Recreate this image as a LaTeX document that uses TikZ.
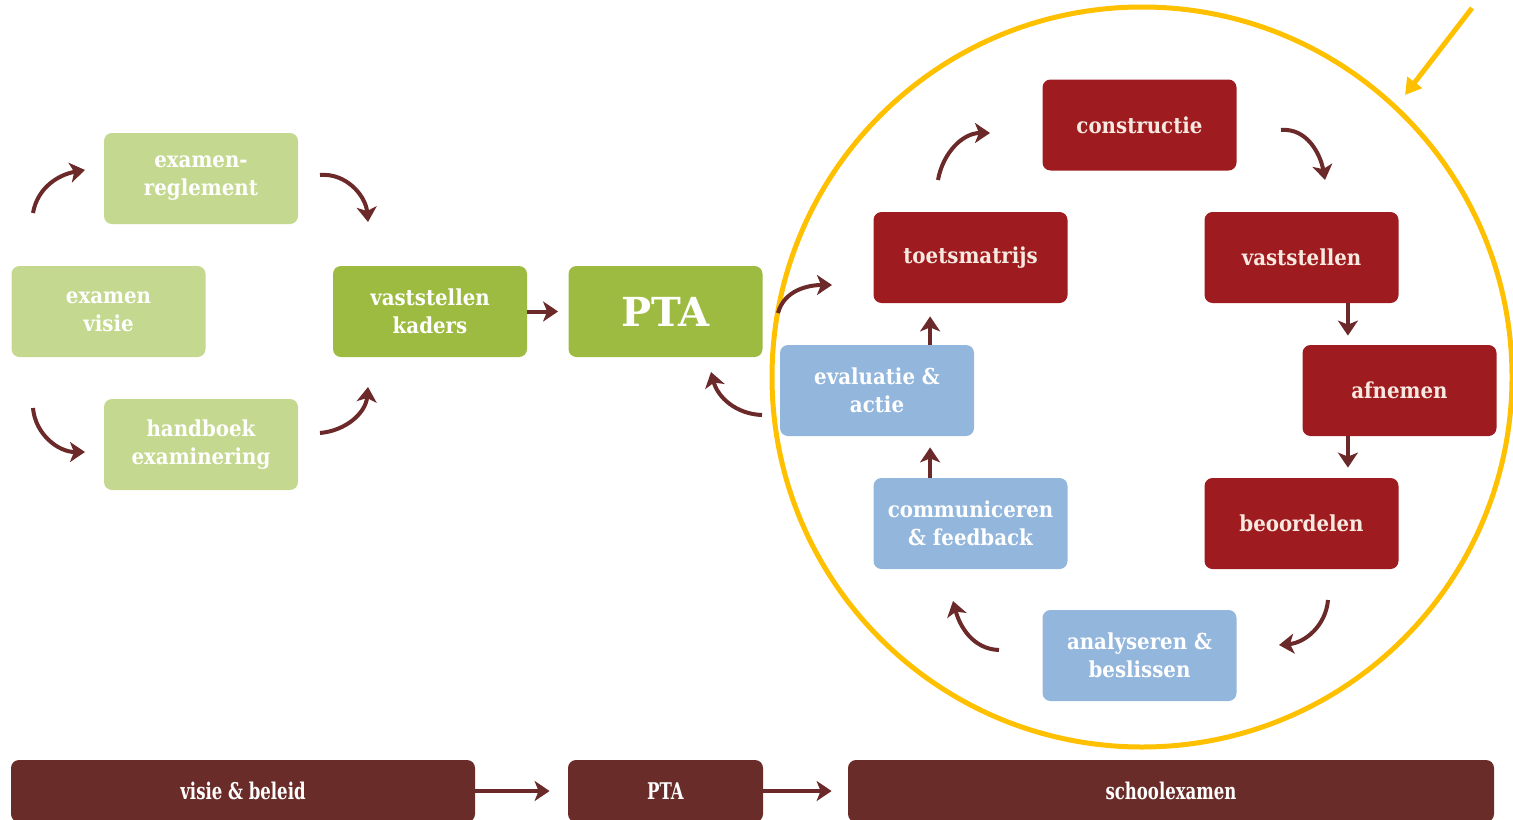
\documentclass[tikz,border=0pt]{standalone}
\usepackage{fontspec}
\setmainfont{DejaVu Serif Condensed}
\newfontfamily\ptafont{DejaVu Serif}
\newfontfamily\balkfont{DejaVu Serif Condensed}[FakeStretch=0.8]
\usetikzlibrary{arrows.meta,positioning}

\definecolor{lichtgroen}{HTML}{C4D98F}
\definecolor{middengroen}{HTML}{9CBB40}
\definecolor{toetsrood}{HTML}{9E1C20}
\definecolor{tekstrood}{HTML}{F7E8E0}
\definecolor{lichtblauw}{HTML}{93B6DD}
\definecolor{balkbruin}{HTML}{6A2C28}
\definecolor{pijlbruin}{HTML}{6B2A29}
\definecolor{cirkelgeel}{HTML}{FFC000}

\begin{document}
\begin{tikzpicture}[x=0.5pt,y=0.5pt,on grid,
   box/.style={rounded corners=4pt,minimum width=97pt,minimum height=45.5pt,inner sep=2pt,
     align=center,font=\bfseries\fontsize{11}{14}\selectfont},
   voorbereid/.style={box,fill=lichtgroen,text=white},
   kader/.style={box,fill=middengroen,text=white},
   rood/.style={box,fill=toetsrood,text=tekstrood},
   blauw/.style={box,fill=lichtblauw,text=white},
   balk/.style={rounded corners=4pt,fill=balkbruin,text=white,minimum width=97.5pt,
     minimum height=31pt,font=\balkfont\bfseries\fontsize{11.5}{14}\selectfont},
   boog/.style={color=pijlbruin,line width=2pt,-{Stealth[length=7.5pt,width=10pt,inset=2pt]}},
   pijl/.style={draw,boog}]
   \useasboundingbox (0,0) rectangle (1513,-819);

   % cirkel rond de toetscyclus
   \draw[cirkelgeel,line width=2.5pt] (1142,-377) circle[radius=370];
   \coordinate (g1) at (1472,-8);
   \coordinate (g2) at (1405,-95);
   \draw[cirkelgeel,line width=2.5pt,-{Triangle[length=8pt,width=9pt]}] (g1) -- (g2);

   % visie en kaders
   \node[voorbereid] (visie) at (108.5,-311.5) {examen\\visie};
   \node[voorbereid] (reglement) [above right=66.5pt and 46.25pt of visie] {examen-\\reglement};
   \node[voorbereid] (handboek) [below right=66.5pt and 46.25pt of visie] {handboek\\examinering};
   \node[kader] (kaders) [right=160.75pt of visie] {vaststellen\\kaders};
   \node[kader,font=\ptafont\bfseries\fontsize{20}{24}\selectfont] (pta) [right=117.75pt of kaders] {PTA};

   % toetscyclus
   \node[rood] (matrijs) at (970.5,-257.5) {toetsmatrijs};
   \node[rood] (constructie) [above right=66.25pt and 84.5pt of matrijs] {constructie};
   \node[rood] (vaststellen) [right=165.5pt of matrijs] {vaststellen};
   \node[rood] (afnemen) [below right=66.5pt and 49pt of vaststellen] {afnemen};
   \node[rood] (beoordelen) [below=133pt of vaststellen] {beoordelen};
   \node[blauw] (analyseren) [below left=66pt and 81pt of beoordelen] {analyseren \&\\beslissen};
   \node[blauw] (communiceren) [below=133pt of matrijs] {communiceren\\\& feedback};
   \node[blauw] (evaluatie) [below left=66.5pt and 46.75pt of matrijs] {evaluatie \&\\actie};

   % balk onderaan
   \node[balk,minimum width=232pt] (bvisie) at (243,-791) {visie \& beleid};
   \node[balk] (bpta) at (665.5,-791) {PTA};
   \node[balk,minimum width=323pt] (bschool) at (1171,-791) {schoolexamen};

   % rechte pijlen
   \draw[pijl,shorten >=5pt] (kaders) -- (pta);
   \draw[pijl,shorten >=9pt] (bvisie) -- (bpta);
   \draw[pijl,shorten >=8pt] (bpta) -- (bschool);
   \coordinate (pv) at ([xshift=-25.5pt]vaststellen.south east);
   \coordinate (pb) at ([xshift=-25.5pt]beoordelen.north east);
   \coordinate (pc) at ([xshift=28.5pt]communiceren.north west);
   \coordinate (pm) at ([xshift=28.5pt]matrijs.south west);
   \draw[pijl,shorten >=4.5pt] (pv) -- (pv |- afnemen.north);
   \draw[pijl,shorten >=5pt] (pb |- afnemen.south) -- (pb);
   \draw[pijl,shorten >=5.5pt] (pc) -- (pc |- evaluatie.south);
   \draw[pijl,shorten >=6.5pt] (pm |- evaluatie.north) -- (pm);

   % gebogen pijlen
   \coordinate (r1) at (33,-213);   \coordinate (r2) at (85,-170);
   \coordinate (r3) at (320,-175);  \coordinate (r4) at (368,-222);
   \coordinate (r5) at (33,-408);   \coordinate (r6) at (85,-452);
   \coordinate (r7) at (320,-433);  \coordinate (r8) at (368,-387);
   \coordinate (t1) at (778,-313);  \coordinate (t2) at (832,-285);
   \coordinate (t3) at (762,-415);  \coordinate (t4) at (711,-372);
   \coordinate (t5) at (938,-180);  \coordinate (t6) at (990,-133);
   \coordinate (t7) at (1281,-130); \coordinate (t8) at (1325,-180);
   \coordinate (t9) at (1328,-600); \coordinate (t10) at (1279,-645);
   \coordinate (t11) at (999,-650); \coordinate (t12) at (953,-601);
   \path[boog]
   (r1) edge [out=80,in=190] (r2)
   (r3) edge [out=5,in=95] (r4)
   (r5) edge [out=-85,in=180] (r6)
   (r7) edge [out=5,in=-95] (r8)
   (t1) edge [out=75,in=180] (t2)
   (t3) edge [out=178,in=-75] (t4)
   (t5) edge [out=80,in=180] (t6)
   (t7) edge [out=5,in=100] (t8)
   (t9) edge [out=-95,in=5] (t10)
   (t11) edge [out=178,in=-75] (t12);
\end{tikzpicture}
\end{document}
